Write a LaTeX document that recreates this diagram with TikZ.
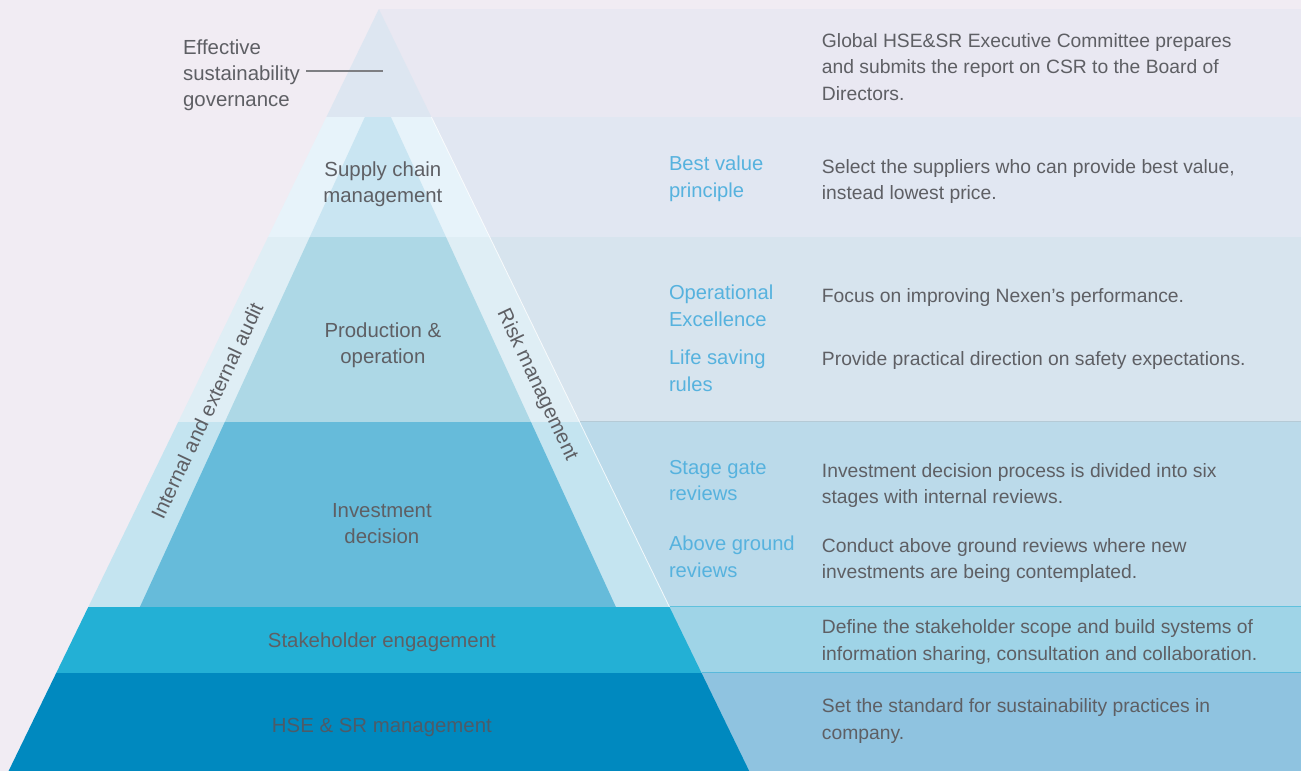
\documentclass[tikz,border=0pt]{standalone}
\usepackage{fontspec}
\setmainfont{Liberation Sans}
\usetikzlibrary{positioning}
\definecolor{bgpage}{HTML}{F1ECF3}
\definecolor{rowA}{HTML}{E9E8F2}
\definecolor{rowB}{HTML}{E1E7F2}
\definecolor{rowC}{HTML}{D7E4EE}
\definecolor{rowD}{HTML}{BBDAEA}
\definecolor{rowE}{HTML}{9FD4E7}
\definecolor{rowF}{HTML}{8FC3E0}
\definecolor{govtop}{HTML}{DDE6F1}
\definecolor{sideB}{HTML}{E7F3FA}
\definecolor{sideC}{HTML}{DFEEF5}
\definecolor{sideD}{HTML}{C4E4F0}
\definecolor{coreB}{HTML}{C9E5F2}
\definecolor{coreC}{HTML}{ADD8E6}
\definecolor{coreD}{HTML}{66BBDA}
\definecolor{stake}{HTML}{23B0D5}
\definecolor{hse}{HTML}{0089BF}
\definecolor{txtgray}{HTML}{5E5F64}
\definecolor{txtblue}{HTML}{56B2DE}
\definecolor{txtdark}{HTML}{4D5B68}

\begin{document}
\begin{tikzpicture}[x=1pt,y=-1pt,
    every node/.style={inner sep=0pt, text=txtgray, font=\fontsize{20.4}{26}\selectfont},
    tier/.style={align=center, anchor=north},
    lbl/.style={align=left, anchor=north west, text=txtblue, font=\fontsize{20.2}{26.5}\selectfont},
    desc/.style={align=left, anchor=north west, font=\fontsize{19.3}{26.7}\selectfont},
    leader/.style={draw=txtgray!80, line width=1.2pt}]
    \fill[bgpage] (0,0) rectangle (1301,771);
    \fill[rowA] (379,9) rectangle (1301,117);
    \fill[rowB] (379,117) rectangle (1301,237);
    \fill[rowC] (379,237) rectangle (1301,422);
    \fill[rowD] (379,422) rectangle (1301,607);
    \fill[rowE] (379,607) rectangle (1301,673);
    \fill[rowF] (379,673) rectangle (1301,771);
    \draw[rowD!85!black!60!rowC, line width=0.8pt] (580,422) -- (1301,422);
    \draw[stake!60!rowD, line width=0.8pt] (670,607) -- (1301,607);
    \draw[stake!50!rowF, line width=0.8pt] (702,673) -- (1301,673);
    \begin{scope}
        \clip (379,9) -- (8.7,771) -- (749.3,771) -- cycle;
        \fill[govtop] (0,9) rectangle (760,117);
        \fill[sideB] (0,117) rectangle (760,237);
        \fill[sideC] (0,237) rectangle (760,422);
        \fill[sideD] (0,422) rectangle (760,607);
        \fill[stake] (0,607) rectangle (760,673);
        \fill[hse] (0,673) rectangle (760,771);
        \clip (378,88.7) -- (140,607) -- (616,607) -- cycle;
        \fill[coreB] (0,117) rectangle (760,237);
        \fill[coreC] (0,237) rectangle (760,422);
        \fill[coreD] (0,422) rectangle (760,607);
    \end{scope}
    \draw[white, line width=0.8pt, opacity=0.8] (431.5,117) -- (669.6,607);

    \node[anchor=north west, align=left] (gov) at (183,40) {Effective\\sustainability\\governance};
    \coordinate (govtip) at (383,71);
    \draw[leader] (gov.east |- govtip) ++(6,0) -- (govtip);
    \node[tier] (supply) at (383,162) {Supply chain\\management};
    \node[tier] (prod) at (383,323) {Production \&\\operation};
    \node[tier] (invest) at (382,503) {Investment\\decision};
    \node[tier] (stakeh) at (382,633) {Stakeholder engagement};
    \node[tier, text=txtdark] (hsesr) at (382,718) {HSE \& SR management};
    \node[rotate=64.8] (audit) at (207,411) {Internal and external audit};
    \node[rotate=-64.8] (risk) at (537,385) {Risk management};

    \node[desc] (dgov) at (822,33) {Global HSE\&SR Executive Committee prepares\\and submits the report on CSR to the Board of\\Directors.};
    \node[lbl] (lbest) at (669,156) {Best value\\principle};
    \node[desc] (dbest) at (822,159) {Select the suppliers who can provide best value,\\instead lowest price.};
    \node[lbl] (lopex) at (669,285) {Operational\\Excellence};
    \node[desc] (dopex) at (822,288) {Focus on improving Nexen's performance.};
    \node[lbl] (llife) at (669,350) {Life saving\\rules};
    \node[desc] (dlife) at (822,351) {Provide practical direction on safety expectations.};
    \node[lbl] (lgate) at (669,460) {Stage gate\\reviews};
    \node[desc] (dgate) at (822,463) {Investment decision process is divided into six\\stages with internal reviews.};
    \node[lbl] (labove) at (669,536) {Above ground\\reviews};
    \node[desc] (dabove) at (822,538) {Conduct above ground reviews where new\\investments are being contemplated.};
    \node[desc] (dstake) at (822,620) {Define the stakeholder scope and build systems of\\information sharing, consultation and collaboration.};
    \node[desc] (dhse) at (822,699) {Set the standard for sustainability practices in\\company.};
\end{tikzpicture}
\end{document}
